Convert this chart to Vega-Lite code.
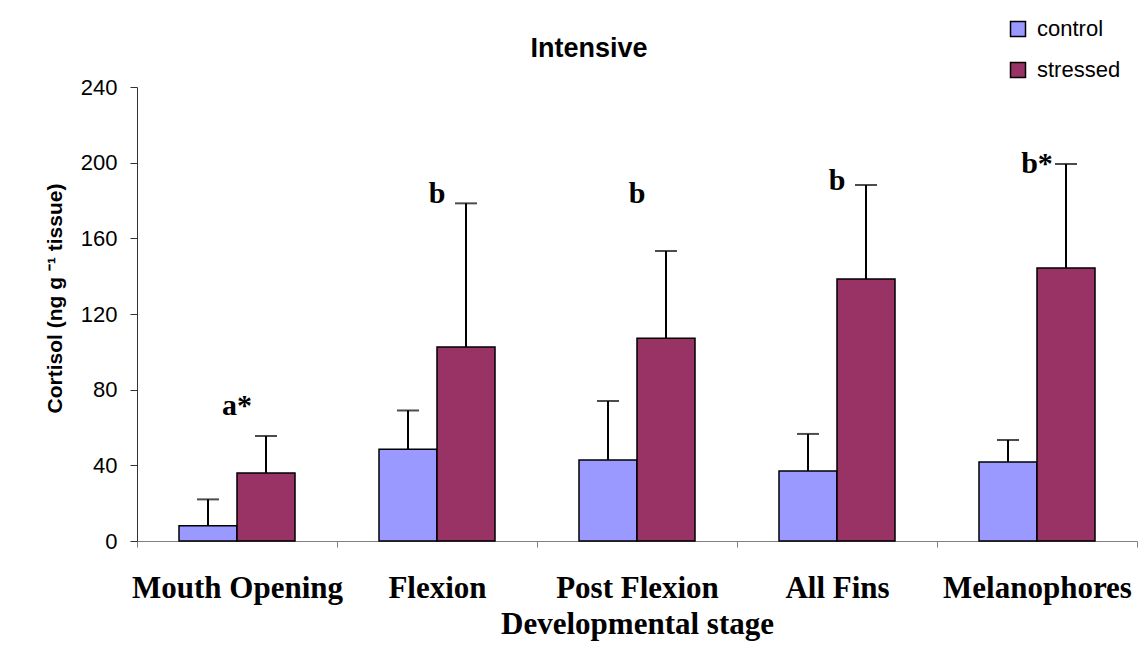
{
  "$schema": "https://vega.github.io/schema/vega-lite/v6.json",
  "width": 1000,
  "height": 454,
  "autosize": {"type": "none"},
  "padding": {"left": 137, "top": 87, "right": 10, "bottom": 119},
  "background": "white",
  "config": {"view": {"stroke": null}, "font": "Liberation Sans"},
  "datasets": {
    "bars": [
      {"stage": "Mouth Opening", "group": "control", "value": 8, "hi": 22},
      {"stage": "Mouth Opening", "group": "stressed", "value": 36, "hi": 55.5},
      {"stage": "Flexion", "group": "control", "value": 48.5, "hi": 69},
      {"stage": "Flexion", "group": "stressed", "value": 102.5, "hi": 178.5},
      {"stage": "Post Flexion", "group": "control", "value": 42.8, "hi": 74},
      {"stage": "Post Flexion", "group": "stressed", "value": 107.2, "hi": 153.3},
      {"stage": "All Fins", "group": "control", "value": 37, "hi": 56.6},
      {"stage": "All Fins", "group": "stressed", "value": 138.5, "hi": 188.2},
      {"stage": "Melanophores", "group": "control", "value": 41.8, "hi": 53.4},
      {"stage": "Melanophores", "group": "stressed", "value": 144.3, "hi": 199.3}
    ],
    "letters": [
      {"stage": "Mouth Opening", "letter": "a*", "ly": 66.6},
      {"stage": "Flexion", "letter": "b", "ly": 178.6},
      {"stage": "Post Flexion", "letter": "b", "ly": 178.6},
      {"stage": "All Fins", "letter": "b", "ly": 185.5},
      {"stage": "Melanophores", "letter": "b*", "ly": 194.5}
    ]
  },
  "title": {
    "text": "Intensive",
    "font": "Liberation Sans",
    "fontSize": 27,
    "fontWeight": "bold",
    "color": "black",
    "anchor": "middle",
    "dx": -48,
    "baseline": "alphabetic",
    "offset": -66
  },
  "layer": [
    {
      "data": {"name": "bars"},
      "mark": {"type": "bar", "stroke": "black", "strokeWidth": 1.5},
      "encoding": {
        "x": {
          "field": "stage",
          "type": "nominal",
          "sort": ["Mouth Opening", "Flexion", "Post Flexion", "All Fins", "Melanophores"],
          "scale": {"paddingInner": 0, "paddingOuter": 0},
          "title": "Developmental stage",
          "axis": {
            "domainColor": "#808080",
            "tickColor": "#808080",
            "tickSize": 6,
            "tickBand": "extent",
            "labelAngle": 0,
            "labelFont": "Liberation Serif",
            "labelFontSize": 31,
            "labelFontWeight": "bold",
            "labelColor": "black",
            "labelBaseline": "alphabetic",
            "labelPadding": 50,
            "labelLimit": 0,
            "labelOverlap": false,
            "titleFont": "Liberation Serif",
            "titleFontSize": 31,
            "titleFontWeight": "bold",
            "titleColor": "black",
            "titleBaseline": "alphabetic",
            "titleY": 92
          }
        },
        "xOffset": {
          "field": "group",
          "type": "nominal",
          "sort": ["control", "stressed"],
          "scale": {"paddingInner": 0, "paddingOuter": 0.724}
        },
        "y": {
          "field": "value",
          "type": "quantitative",
          "scale": {"domain": [0, 240], "nice": false},
          "title": "Cortisol (ng g  ⁻¹  tissue)",
          "axis": {
            "values": [0, 40, 80, 120, 160, 200, 240],
            "grid": false,
            "domainColor": "#333333",
            "tickColor": "#333333",
            "tickSize": 7,
            "labelFont": "Liberation Sans",
            "labelFontSize": 22,
            "labelColor": "black",
            "labelPadding": 13,
            "titleFont": "Liberation Sans",
            "titleFontSize": 21,
            "titleFontWeight": "bold",
            "titleColor": "black",
            "titleX": -82,
            "titleY": 211,
            "titleBaseline": "middle",
            "titleAngle": -90
          }
        },
        "color": {
          "field": "group",
          "type": "nominal",
          "scale": {"domain": ["control", "stressed"], "range": ["#9999FF", "#993366"]},
          "legend": {
            "orient": "none",
            "legendX": 870,
            "legendY": -69,
            "title": null,
            "padding": 0,
            "symbolType": "square",
            "symbolSize": 225,
            "symbolStrokeColor": "black",
            "symbolStrokeWidth": 1.5,
            "labelFont": "Liberation Sans",
            "labelFontSize": 22,
            "labelColor": "black",
            "labelOffset": 8,
            "rowPadding": 19,
            "encode": {
              "symbols": {"update": {"stroke": {"value": "black"}, "strokeWidth": {"value": 1.5}}}
            }
          }
        }
      }
    },
    {
      "data": {"name": "bars"},
      "mark": {"type": "rule", "color": "black", "strokeWidth": 2},
      "encoding": {
        "x": {"field": "stage", "type": "nominal", "sort": ["Mouth Opening", "Flexion", "Post Flexion", "All Fins", "Melanophores"]},
        "xOffset": {"field": "group", "type": "nominal", "sort": ["control", "stressed"]},
        "y": {"field": "value", "type": "quantitative"},
        "y2": {"field": "hi"}
      }
    },
    {
      "data": {"name": "bars"},
      "mark": {"type": "tick", "color": "black", "thickness": 2, "size": 22},
      "encoding": {
        "x": {"field": "stage", "type": "nominal", "sort": ["Mouth Opening", "Flexion", "Post Flexion", "All Fins", "Melanophores"]},
        "xOffset": {"field": "group", "type": "nominal", "sort": ["control", "stressed"]},
        "y": {"field": "hi", "type": "quantitative"}
      }
    },
    {
      "data": {"name": "letters"},
      "mark": {"type": "text", "font": "Liberation Serif", "fontWeight": "bold", "fontSize": 30, "baseline": "alphabetic", "color": "black"},
      "encoding": {
        "x": {"field": "stage", "type": "nominal", "sort": ["Mouth Opening", "Flexion", "Post Flexion", "All Fins", "Melanophores"]},
        "y": {"field": "ly", "type": "quantitative"},
        "text": {"field": "letter"}
      }
    }
  ]
}
